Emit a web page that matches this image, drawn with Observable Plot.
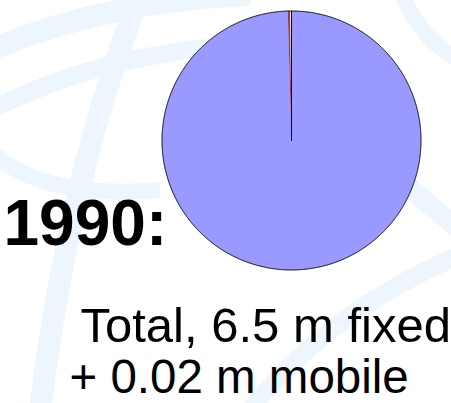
<!DOCTYPE html>
<html>
<head>
<meta charset="utf-8">
<script src="https://cdn.jsdelivr.net/npm/d3@7"></script>
<script src="https://cdn.jsdelivr.net/npm/@observablehq/plot@0.6"></script>
<style>
  html, body { margin: 0; padding: 0; background: #ffffff; }
  #wrap { position: relative; width: 451px; height: 403px; overflow: hidden; }
  #bg { position: absolute; left: 0; top: 0; }
  #chart { position: absolute; left: 0; top: 0; }
</style>
</head>
<body>
<div id="wrap">
  <svg id="bg" width="451" height="403" viewBox="0 0 451 403">
    <g fill="none" stroke="#EDF5FD" stroke-linecap="butt">
      <path d="M 140 -5 Q 70 170 40 410" stroke-width="22"/>
      <path d="M -10 50 Q 110 0 250 -5" stroke-width="22"/>
      <path d="M -10 110 Q 130 40 300 45" stroke-width="18"/>
      <path d="M -10 150 Q 40 200 160 190" stroke-width="16"/>
      <path d="M 400 180 Q 430 205 460 230" stroke-width="20"/>
      <path d="M 460 255 Q 330 310 250 410" stroke-width="18"/>
      <path d="M 400 -10 Q 420 40 460 60" stroke-width="16"/>
    </g>
  </svg>
  <div id="chart"></div>
</div>
<script>
// Data
const categories = ["Fixed", "Mobile", "Other"];
const values = [6.5, 0.02, 0.01];
const colors = ["#9999FF", "#993366", "#FFFFCC"];
const yearLabel = ["1990:"];
const captionLines = ["Total, 6.5 m fixed", "+ 0.02 m mobile"];

// Layout
const W = 451, H = 403;
const cx = 291, cy = 140, r = 129.5;

// Build slice polygons from d3.pie (clockwise from 12 o'clock)
const arcs = d3.pie().sort(null)(values);
const step = Math.PI / 720;
const slicePts = [];
arcs.forEach((a, i) => {
  const cat = categories[i];
  slicePts.push({cat, x: 0, y: 0});
  const n = Math.max(2, Math.ceil((a.endAngle - a.startAngle) / step));
  for (let k = 0; k <= n; k++) {
    const t = a.startAngle + (a.endAngle - a.startAngle) * k / n;
    slicePts.push({cat, x: Math.sin(t), y: Math.cos(t)});
  }
  slicePts.push({cat, x: 0, y: 0});
});

// Outline: radius to start angle plus full circumference
const start = arcs[0].startAngle, end = arcs[arcs.length - 1].endAngle;
const outline = [{x: 0, y: 0}];
const nOut = 1440;
for (let k = 0; k <= nOut; k++) {
  const t = start + (end - start) * k / nOut;
  outline.push({x: Math.sin(t), y: Math.cos(t)});
}

const plot = Plot.plot({
  width: W,
  height: H,
  margin: 0,
  style: {background: "transparent", overflow: "visible"},
  x: {domain: [-1, 1], range: [cx - r, cx + r], axis: null},
  y: {domain: [-1, 1], range: [cy + r, cy - r], axis: null},
  color: {domain: categories, range: colors},
  marks: [
    Plot.line(slicePts, {x: "x", y: "y", z: "cat", fill: "cat", stroke: "none", curve: "linear"}),
    Plot.line(outline, {x: "x", y: "y", stroke: "#000000", strokeWidth: 1, fill: "none"}),
    Plot.text(yearLabel, {
      text: d => d, frameAnchor: "top-left", textAnchor: "start", lineAnchor: "bottom",
      dx: 3, dy: 244, fontSize: 64, fontWeight: "bold",
      fontFamily: "'Liberation Sans', Arial, sans-serif", fill: "#000000"
    }),
    Plot.text([captionLines[0]], {
      text: d => d, frameAnchor: "top-left", textAnchor: "start", lineAnchor: "bottom",
      dx: 80, dy: 341, fontSize: 49,
      fontFamily: "'Liberation Sans', Arial, sans-serif", fill: "#000000"
    }),
    Plot.text([captionLines[1]], {
      text: d => d, frameAnchor: "top-left", textAnchor: "start", lineAnchor: "bottom",
      dx: 69, dy: 392, fontSize: 47.5,
      fontFamily: "'Liberation Sans', Arial, sans-serif", fill: "#000000"
    })
  ]
});
document.getElementById("chart").appendChild(plot);
</script>
</body>
</html>
